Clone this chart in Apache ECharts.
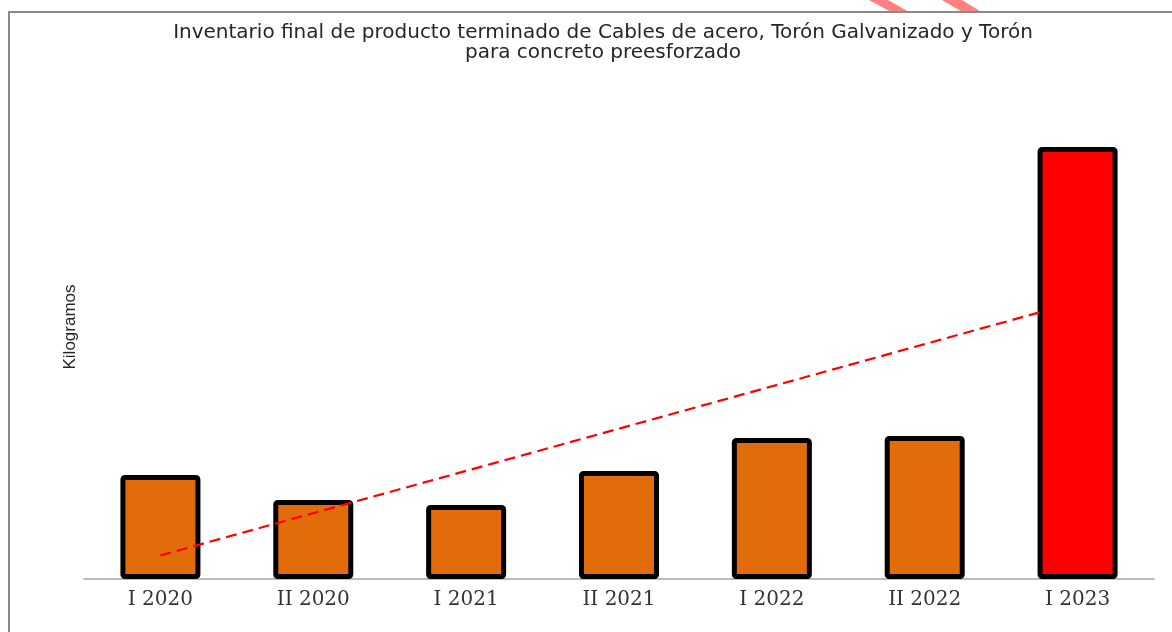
<!DOCTYPE html>
<html>
<head>
<meta charset="utf-8">
<script src="https://cdn.jsdelivr.net/npm/echarts@6/dist/echarts.min.js"></script>
<style>
  html, body { margin: 0; padding: 0; background: #ffffff; }
  #chart { width: 1172px; height: 632px; }
</style>
</head>
<body>
<div id="chart"></div>
<script>
// Categories (half-year periods)
const categories = ['I 2020', 'II 2020', 'I 2021', 'II 2021', 'I 2022', 'II 2022', 'I 2023'];
// Inventory values (kg, relative scale)
const inventoryValues = [1040, 790, 740, 1080, 1410, 1430, 4320];
// Bar fill colours: highlighted last period
const barColors = ['#E36C0A', '#E36C0A', '#E36C0A', '#E36C0A', '#E36C0A', '#E36C0A', '#FF0000'];
// Linear trend line endpoints (category position, value)
const trendX = [0, 5.76];
const trendY = [236, 2670];

const titleLines = [
  'Inventario final de producto terminado de Cables de acero, Torón Galvanizado y Torón',
  'para concreto preesforzado'
];
const yAxisName = 'Kilogramos';

const chart = echarts.init(document.getElementById('chart'), null, { renderer: 'canvas' });

const option = {
  backgroundColor: '#ffffff',
  animation: false,
  title: {
    text: titleLines.join('\n'),
    left: 598,
    textAlign: 'center',
    top: 18,
    textStyle: {
      fontFamily: 'DejaVu Sans',
      fontSize: 20,
      fontWeight: 'normal',
      color: '#262626',
      lineHeight: 20
    }
  },
  grid: { left: 84, right: 18, top: 129, bottom: 53, containLabel: false },
  xAxis: [
    {
      type: 'category',
      data: categories,
      axisLine: { show: true, lineStyle: { color: '#a6a6a6', width: 1.5 } },
      axisTick: { show: false },
      axisLabel: {
        fontFamily: 'DejaVu Serif',
        fontSize: 20,
        color: '#333333',
        margin: 11
      }
    },
    {
      type: 'value',
      min: -0.5,
      max: 6.5,
      show: false
    }
  ],
  yAxis: {
    type: 'value',
    min: 0,
    max: 4500,
    show: false,
    splitLine: { show: false }
  },
  series: [
    {
      type: 'bar',
      xAxisIndex: 0,
      data: inventoryValues.map((v, i) => ({ value: v, itemStyle: { color: barColors[i] } })),
      barWidth: 80,
      itemStyle: {
        borderColor: '#000000',
        borderWidth: 5,
        borderRadius: 2
      },
      z: 2
    },
    {
      type: 'line',
      xAxisIndex: 1,
      data: trendX.map((x, i) => [x, trendY[i]]),
      symbol: 'none',
      lineStyle: { color: '#FF0000', width: 2.2, type: [11, 6] },
      z: 3
    }
  ],
  graphic: [
    {
      type: 'polygon',
      shape: { points: [[869, 0], [888, 0], [911, 13], [893, 13]] },
      style: { fill: '#FF8080' },
      z: 1
    },
    {
      type: 'polygon',
      shape: { points: [[942, 0], [962, 0], [983, 13], [964, 13]] },
      style: { fill: '#FF8080' },
      z: 1
    },
    {
      type: 'rect',
      shape: { x: 9, y: 12, width: 1300, height: 800 },
      style: { fill: 'none', stroke: '#8a8a8a', lineWidth: 2 },
      z: 2
    },
    {
      type: 'text',
      x: 70,
      y: 327,
      rotation: Math.PI / 2,
      style: {
        text: yAxisName,
        fontFamily: 'Liberation Sans',
        fontSize: 17,
        fill: '#262626',
        align: 'center',
        verticalAlign: 'middle'
      },
      z: 5
    }
  ]
};

chart.setOption(option);
</script>
</body>
</html>
